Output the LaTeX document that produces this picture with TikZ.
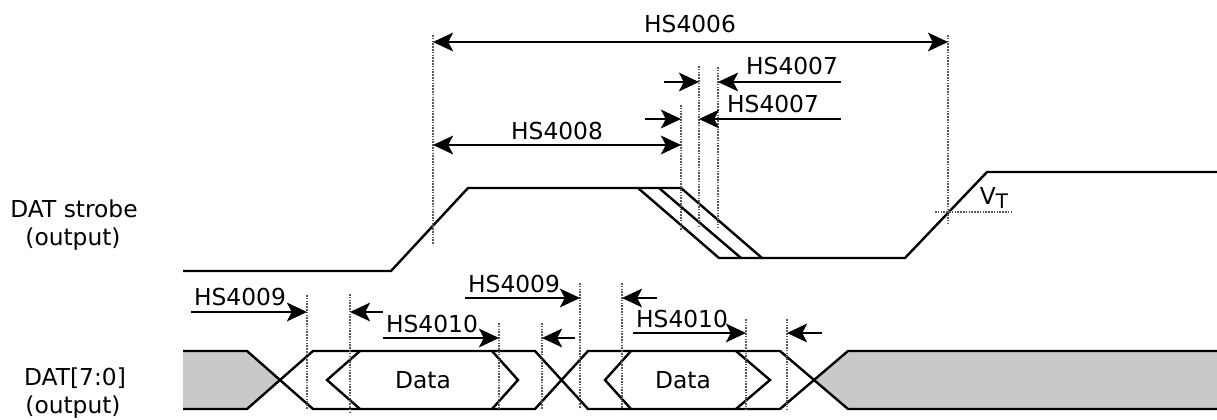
\documentclass[tikz,border=0pt]{standalone}
\usepackage{fontspec}
\setmainfont{DejaVu Sans}
\usetikzlibrary{arrows.meta}
\definecolor{busgray}{RGB}{200,201,203}
\tikzset{
  signal/.style={line width=1.8pt,line join=miter},
  guide/.style={line width=0.8pt,dash pattern=on 1.2pt off 0.9pt,black!65},
  dim/.style={line width=1.3pt,-{Stealth[length=15pt,width=14pt,inset=3.5pt]}},
  dimboth/.style={line width=1.3pt,{Stealth[length=15pt,width=14pt,inset=3.5pt]}-{Stealth[length=15pt,width=14pt,inset=3.5pt]}},
  lbl/.style={inner sep=0pt,font=\fontsize{17.5}{21}\selectfont},
}
\begin{document}
\begin{tikzpicture}[x=0.75pt,y=-0.75pt]
  \useasboundingbox (0,0) rectangle (1217,420);
  % draw signal names
  \node at(74,209)[lbl](strobename){DAT strobe};
  \node at(73,239)[lbl](strobedir){(output)};
  \node at(75,378)[lbl](busname){DAT[7:0]};
  \node at(73,407)[lbl](busdir){(output)};
  % draw strobe waveform
  \draw[signal] (183,271) -- (391,271) -- (468,188) -- (681,188) -- (762,258) -- (905,258) -- (987,172) -- (1217,172);
  \draw[signal] (638,188) -- (719,258) -- (762,258);
  \draw[signal] (659,188) -- (741,258);
  % draw grey (invalid) bus parts
  \fill[busgray] (183,351) -- (247,351) -- (280,380) -- (247,409) -- (183,409) -- cycle;
  \fill[busgray] (814,380) -- (848,351) -- (1217,351) -- (1217,409) -- (848,409) -- cycle;
  % draw bus outline
  \draw[signal] (183,351) -- (247,351) -- (313,409) -- (535,409) -- (588,351) -- (780,351) -- (848,409) -- (1217,409);
  \draw[signal] (183,409) -- (247,409) -- (313,351) -- (535,351) -- (588,409) -- (780,409) -- (848,351) -- (1217,351);
  % draw data hexagons
  \draw[signal] (360,351) -- (327,380) -- (360,409);
  \draw[signal] (492,351) -- (518,380) -- (492,409);
  \draw[signal] (631,351) -- (605,380) -- (631,409);
  \draw[signal] (736,351) -- (770,380) -- (736,409);
  \node at(423,380)[lbl](data1){Data};
  \node at(683,380)[lbl](data2){Data};
  % draw dotted guides
  \foreach \x/\ya/\yb in {433/35/245,948/35/223,681/105/231,699/66/228,718/67/227,
      307/295/409,350/294/412,499/323/409,542/323/409,580/283/409,622/283/409,746/319/409,787/319/409}
    \draw[guide] (\x,\ya) -- (\x,\yb);
  \draw[guide] (935,212) -- (1011,212);
  \node at(994,198)[lbl](vt){V\raisebox{-0.35ex}{\fontsize{15}{18}\selectfont T}};
  % draw dimension ends
  \coordinate (a6l) at (433,42);  \coordinate (a6r) at (948,42);
  \coordinate (a7s) at (664,82);  \coordinate (a7a) at (699,82);
  \coordinate (a7e) at (841,82);  \coordinate (a7b) at (718,82);
  \coordinate (b7s) at (645,119); \coordinate (b7a) at (681,119);
  \coordinate (b7e) at (841,119); \coordinate (b7b) at (699,119);
  \coordinate (a8l) at (433,145); \coordinate (a8r) at (681,145);
  \coordinate (a9s) at (191,312); \coordinate (a9a) at (307,312);
  \coordinate (a9e) at (383,312); \coordinate (a9b) at (350,312);
  \coordinate (a10s) at (383,338); \coordinate (a10a) at (499,338);
  \coordinate (a10e) at (575,338); \coordinate (a10b) at (542,338);
  \coordinate (b9s) at (465,298); \coordinate (b9a) at (580,298);
  \coordinate (b9e) at (657,298); \coordinate (b9b) at (622,298);
  \coordinate (b10s) at (633,333); \coordinate (b10a) at (746,333);
  \coordinate (b10e) at (822,333); \coordinate (b10b) at (787,333);
  % draw dimension arrows
  \draw[dimboth] (a6l) -- (a6r);
  \draw[dim] (a7s) -- (a7a);
  \draw[dim] (a7e) -- (a7b);
  \draw[dim] (b7s) -- (b7a);
  \draw[dim] (b7e) -- (b7b);
  \draw[dimboth] (a8l) -- (a8r);
  \draw[dim] (a9s) -- (a9a);
  \draw[dim] (a9e) -- (a9b);
  \draw[dim] (a10s) -- (a10a);
  \draw[dim] (a10e) -- (a10b);
  \draw[dim] (b9s) -- (b9a);
  \draw[dim] (b9e) -- (b9b);
  \draw[dim] (b10s) -- (b10a);
  \draw[dim] (b10e) -- (b10b);
  % draw dimension labels
  \node at(690,24)[lbl](hs4006){HS4006};
  \node at(792,66)[lbl](hs4007a){HS4007};
  \node at(773,104)[lbl](hs4007b){HS4007};
  \node at(557,131)[lbl](hs4008){HS4008};
  \node at(240,297)[lbl](hs4009a){HS4009};
  \node at(432,324)[lbl](hs4010a){HS4010};
  \node at(514,284)[lbl](hs4009b){HS4009};
  \node at(682,319)[lbl](hs4010b){HS4010};
\end{tikzpicture}
\end{document}
